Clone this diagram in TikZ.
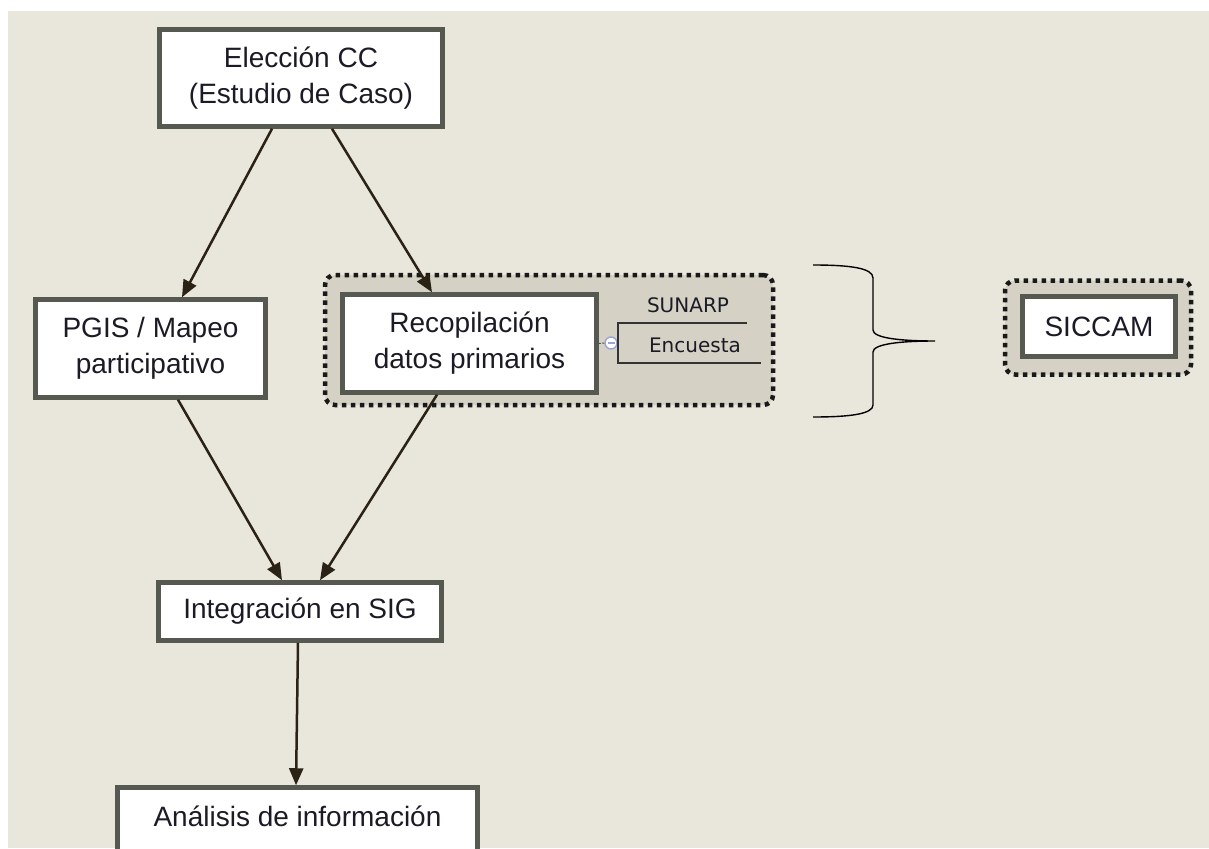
\documentclass[tikz,border=0pt]{standalone}
\usepackage{fontspec}
\setmainfont{Liberation Sans}
\newfontfamily\smallfont{DejaVu Sans}
\usetikzlibrary{arrows.meta,calc}
\definecolor{bgc}{HTML}{E9E6DB}
\definecolor{contfill}{HTML}{D5D2C5}
\definecolor{boxline}{HTML}{565950}
\definecolor{txt}{HTML}{1B1B26}
\definecolor{arr}{HTML}{2A2214}
\definecolor{circ}{HTML}{9AA5D6}
\tikzset{
  mainbox/.style={draw=boxline, line width=4.5pt, fill=white, text=txt, align=center,
    inner sep=0pt, font=\fontsize{28}{36}\selectfont},
  dotbox/.style={draw=black!90, line width=4.5pt, dash pattern=on 4.5pt off 4.5pt,
    rounded corners=10pt, fill=contfill, inner sep=0pt},
  flow/.style={draw=arr, line width=2.5pt, -{Triangle[length=17pt,width=14pt]}},
  branch/.style={draw=black!80, line width=1.4pt},
  leaf/.style={text=txt, font=\smallfont\fontsize{20}{24}\selectfont, inner sep=0pt},
}
\begin{document}
\begin{tikzpicture}[x=1pt,y=-1pt]
\useasboundingbox (0,0) rectangle (1209,848);
\clip (0,0) rectangle (1209,848);
\fill[white] (0,0) rectangle (1209,848);
\fill[bgc] (8,11) rectangle (1209,848);
% containers
\node[dotbox, minimum width=448pt, minimum height=130pt] (cont) at (549,340) {};
\node[dotbox, minimum width=186pt, minimum height=94pt] (scont) at (1098,327.5) {};
% main boxes
\node[mainbox, minimum width=283pt, minimum height=97pt] (ele) at (301,78) {Elección CC\\(Estudio de Caso)};
\node[mainbox, minimum width=230pt, minimum height=98pt] (pgis) at (150.5,348.5) {PGIS / Mapeo\\participativo};
\node[mainbox, minimum width=254pt, minimum height=98pt] (rec) at (469.5,343.5) {Recopilación\\datos primarios};
\node[mainbox, minimum width=283pt, minimum height=58pt] (integ) at (300,611.5) {Integración en SIG};
\node[mainbox, minimum width=360pt, minimum height=100pt, text depth=0pt] (anal) at (297.5,837.5) {};
\node[text=txt, font=\fontsize{28}{36}\selectfont, anchor=base] (analt) at (297.5,826) {Análisis de información};
\node[mainbox, minimum width=153pt, minimum height=60pt] (sic) at (1099,326.5) {SICCAM};
% arrows
\draw[flow] (ele.south -| 272,0) -- (pgis.north -| 182,0);
\draw[flow] (ele.south -| 332,0) -- (rec.north -| 432,0);
\draw[flow] (pgis.south -| 178,0) -- (integ.north -| 282,0);
\draw[flow] (rec.south -| 437,0) -- (integ.north -| 320,0);
\draw[flow] (integ.south -| 298,0) -- (anal.north -| 296,0);
% branch
\node[circle, draw=circ, fill=white, line width=1.4pt, minimum size=12pt, inner sep=0pt] (knob) at (611,343) {};
\draw[circ, line width=1.5pt] (607.5,343) -- (614.5,343);
\draw[black!70, line width=1pt, dash pattern=on 2pt off 1.5pt] (rec.east) -- (knob.west);
\coordinate (bt) at (618,323);
\coordinate (bb) at (618,363);
\coordinate (bte) at (747,323);
\coordinate (bbe) at (761,363);
\draw[branch] (bte) -- (bt) -- (bb) -- (bbe);
\node[leaf] (sunarp) at (688,305) {SUNARP};
\node[leaf] (enc) at (695,345) {Encuesta};
% brace
\draw[black, line width=1.4pt] (813,265) .. controls (850,265) and (873,268) .. (873,278) -- (873,330)
  .. controls (873,338) and (900,341) .. (935,341)
  .. controls (900,341) and (873,344) .. (873,352) -- (873,405)
  .. controls (873,414) and (850,417) .. (813,417);
\end{tikzpicture}
\end{document}
